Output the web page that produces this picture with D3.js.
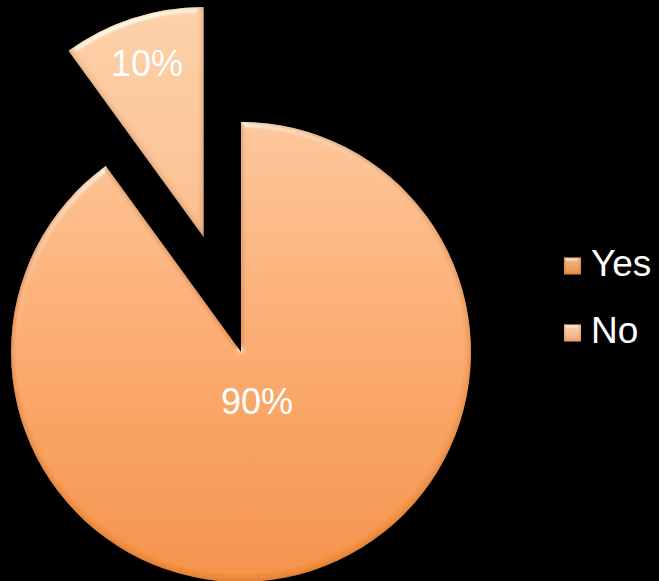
<!DOCTYPE html>
<html>
<head>
<meta charset="utf-8">
<script src="https://cdn.jsdelivr.net/npm/d3@7"></script>
<style>
  html, body { margin: 0; padding: 0; background: #000; }
  svg { display: block; }
</style>
</head>
<body>
<svg id="chart" width="659" height="581"></svg>
<script>
// Survey answers
const categories = ["Yes", "No"];
const values = [90, 10];

// Layout
const width = 659, height = 581;
const cx = 241, cy = 352, radius = 230;
const explodeDist = { "Yes": 0, "No": 121 };
const labelRadius = { "Yes": 52, "No": 183 };
const fontFamily = "Arial, 'Liberation Sans', sans-serif";

const svg = d3.select("#chart");
svg.append("rect").attr("width", width).attr("height", height).attr("fill", "#000");

const defs = svg.append("defs");

// Vertical fills for each slice (page coordinates)
const grads = {
  "Yes": [["0%", "#fdc597"], ["45%", "#fcaa6c"], ["100%", "#f48d3c"]],
  "No":  [["0%", "#fdcfa6"], ["100%", "#fbbd8c"]]
};
const gradBounds = { "Yes": [122, 581], "No": [8, 237] };

// Legend swatch fills
const swatch = { "Yes": ["#f6b47e", "#e98d44"], "No": ["#fbd0aa", "#efa878"] };
categories.forEach(c => {
  const g = defs.append("linearGradient")
    .attr("id", "sw-" + c)
    .attr("x1", 0).attr("x2", 0).attr("y1", 0).attr("y2", 1);
  g.append("stop").attr("offset", "0%").attr("stop-color", swatch[c][0]);
  g.append("stop").attr("offset", "100%").attr("stop-color", swatch[c][1]);
});

// Soft bevel: top-lit specular rim plus a darker inner edge
function bevel(id, blur, scale) {
  const f = defs.append("filter").attr("id", id)
    .attr("x", "-10%").attr("y", "-10%").attr("width", "120%").attr("height", "120%");
  f.append("feGaussianBlur").attr("in", "SourceAlpha").attr("stdDeviation", blur).attr("result", "blur");
  const sp = f.append("feSpecularLighting").attr("in", "blur")
    .attr("surfaceScale", scale).attr("specularConstant", 0.9)
    .attr("specularExponent", 28).attr("lighting-color", "#fffbe8").attr("result", "spec");
  sp.append("feDistantLight").attr("azimuth", 250).attr("elevation", 38);
  f.append("feComposite").attr("in", "spec").attr("in2", "SourceAlpha").attr("operator", "in").attr("result", "specIn");
  f.append("feComposite").attr("in", "SourceAlpha").attr("in2", "blur")
    .attr("operator", "arithmetic").attr("k1", 0).attr("k2", 1).attr("k3", -1).attr("k4", 0).attr("result", "edge");
  f.append("feFlood").attr("flood-color", "#7a3c10").attr("flood-opacity", 0.55).attr("result", "dark");
  f.append("feComposite").attr("in", "dark").attr("in2", "edge").attr("operator", "in").attr("result", "edgeDark");
  const m = f.append("feMerge");
  m.append("feMergeNode").attr("in", "SourceGraphic");
  m.append("feMergeNode").attr("in", "edgeDark");
  m.append("feMergeNode").attr("in", "specIn");
}
bevel("bevel", 3, 3);
bevel("bevel-small", 1.5, 2);

const data = categories.map((c, i) => ({ category: c, value: values[i] }));
const pie = d3.pie().sort(null).value(d => d.value);
const arcs = pie(data);
const arc = d3.arc().innerRadius(0).outerRadius(radius);

const offset = d => {
  const mid = (d.startAngle + d.endAngle) / 2;
  const r = explodeDist[d.data.category];
  return [Math.sin(mid) * r, -Math.cos(mid) * r];
};

// Slice gradients, shifted into each slice's local frame
arcs.forEach(d => {
  const c = d.data.category;
  const [ox, oy] = offset(d);
  const g = defs.append("linearGradient")
    .attr("id", "grad-" + c)
    .attr("gradientUnits", "userSpaceOnUse")
    .attr("x1", 0).attr("x2", 0)
    .attr("y1", gradBounds[c][0] - cy - oy).attr("y2", gradBounds[c][1] - cy - oy);
  grads[c].forEach(([o, col]) => g.append("stop").attr("offset", o).attr("stop-color", col));
});

const g = svg.append("g").attr("transform", `translate(${cx},${cy})`);

const slices = g.selectAll("g.slice").data(arcs).join("g")
  .attr("class", "slice")
  .attr("transform", d => { const [x, y] = offset(d); return `translate(${x},${y})`; });

slices.append("path")
  .attr("d", arc)
  .attr("fill", d => `url(#grad-${d.data.category})`)
  .attr("filter", "url(#bevel)");

// Percentage labels
const total = d3.sum(values);
slices.append("text")
  .attr("transform", d => {
    const mid = (d.startAngle + d.endAngle) / 2;
    const r = labelRadius[d.data.category];
    return `translate(${Math.sin(mid) * r},${-Math.cos(mid) * r})`;
  })
  .attr("text-anchor", "middle")
  .attr("dy", "0.36em")
  .attr("fill", "#fff")
  .attr("font-family", fontFamily)
  .attr("font-size", 36)
  .text(d => Math.round(d.data.value / total * 100) + "%");

// Legend
const legend = svg.append("g").attr("transform", "translate(564,0)");
const legendY = d3.scalePoint().domain(categories).range([266, 333]);
const items = legend.selectAll("g").data(categories).join("g")
  .attr("transform", c => `translate(0,${legendY(c)})`);
items.append("rect")
  .attr("x", 0).attr("y", -8.5).attr("width", 17).attr("height", 17)
  .attr("fill", c => `url(#sw-${c})`)
  .attr("filter", "url(#bevel-small)");
items.append("text")
  .attr("x", 27).attr("dy", 10)
  .attr("fill", "#fff")
  .attr("font-family", fontFamily)
  .attr("font-size", 37)
  .text(c => c);
</script>
</body>
</html>
